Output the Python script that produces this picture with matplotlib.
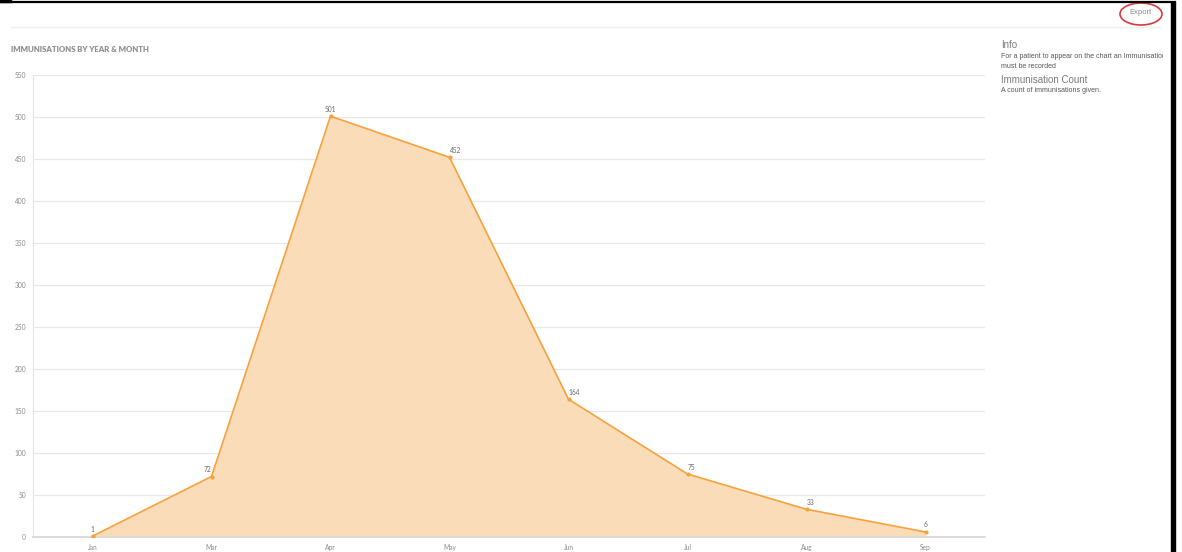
import matplotlib
matplotlib.use("Agg")
import matplotlib.pyplot as plt
from matplotlib.patches import Ellipse, Rectangle
from matplotlib.lines import Line2D

months = ["Jan", "Mar", "Apr", "May", "Jun", "Jul", "Aug", "Sep"]
counts = [1, 72, 501, 452, 164, 75, 33, 6]
y_ticks = [0, 50, 100, 150, 200, 250, 300, 350, 400, 450, 500, 550]

W, H = 1182, 552
fig = plt.figure(figsize=(W / 100, H / 100), dpi=100)
fig.patch.set_facecolor("white")
plt.rcParams["font.family"] = ["Lato", "DejaVu Sans"]
ARIAL = ["Liberation Sans", "DejaVu Sans"]

def fx(px):
    return px / W

def fy(py):
    return 1 - py / H

# frame of screenshot
fig.add_artist(Line2D([0, fx(1175)], [fy(2), fy(2)], color="black", lw=1.6, transform=fig.transFigure))
fig.add_artist(Line2D([0, fx(10)], [fy(1), fy(1)], color="black", lw=2.5, transform=fig.transFigure))
fig.add_artist(Rectangle((fx(1171), 0), fx(4), fy(2), color="black", transform=fig.transFigure))
fig.add_artist(Line2D([fx(11), fx(1160)], [fy(27), fy(27)], color="#eeeeee", lw=1, transform=fig.transFigure))

# header texts
fig.text(fx(11), fy(50), "IMMUNISATIONS BY YEAR & MONTH", fontsize=5.6, fontweight="heavy",
         color="#8f8f8f", va="center", ha="left")
fig.text(fx(1141), fy(12), "Export", fontsize=5.5, color="#8a8a8a", va="center", ha="center",
         family=ARIAL)
fig.add_artist(Ellipse((fx(1141), fy(14)), fx(42), 22 / H, fill=False, edgecolor="#d9393b",
                       lw=1.2, transform=fig.transFigure))

# info panel
fig.text(fx(1001), fy(45), "Info", fontsize=7, color="#7a7a7a", va="center", ha="left", family=ARIAL)
t = fig.text(fx(1001), fy(56), "For a patient to appear on the chart an Immunisation", fontsize=5,
             color="#555555", va="center", ha="left", family=ARIAL)
t.set_clip_on(True)
t.set_clip_box(matplotlib.transforms.Bbox.from_extents(1000, 0, 1163, H))
fig.text(fx(1001), fy(66), "must be recorded", fontsize=5, color="#555555", va="center", ha="left",
         family=ARIAL)
fig.text(fx(1001), fy(80), "Immunisation Count", fontsize=7, color="#7a7a7a", va="center", ha="left",
         family=ARIAL)
fig.text(fx(1001), fy(90), "A count of immunisations given.", fontsize=5, color="#555555",
         va="center", ha="left", family=ARIAL)

# main axes
ax = fig.add_axes([fx(33), 1 - 537 / H, fx(985 - 33), (537 - 75) / H])
x = list(range(len(months)))
ax.fill_between(x, counts, 0, color="#fbdcb8", lw=0, zorder=2)
ax.plot(x, counts, color="#f6a13c", lw=1.2, marker="o", ms=2, zorder=3)
ax.set_xlim(-0.5, len(months) - 0.5)
ax.set_ylim(0, 550)
ax.set_xticks(x)
ax.set_xticklabels(months)
ax.set_yticks(y_ticks)
ax.set_yticklabels([str(v) for v in y_ticks])
ax.tick_params(axis="both", length=0, labelsize=4.8, labelcolor="#8a8a8a")
ax.tick_params(axis="x", pad=5)
ax.tick_params(axis="y", pad=5)
ax.grid(axis="y", color="#e8e8e8", lw=0.9, zorder=1)
ax.set_axisbelow(True)
for s in ["top", "right"]:
    ax.spines[s].set_visible(False)
ax.spines["left"].set_color("#e3e3e3")
ax.spines["bottom"].set_color("#d6d6d6")
ax.spines["bottom"].set_linewidth(1.2)

for i, v in enumerate(counts):
    prev_v = counts[i - 1] if i > 0 else None
    next_v = counts[i + 1] if i < len(counts) - 1 else None
    ha = "center"
    if prev_v is not None and next_v is not None:
        if prev_v < v < next_v:
            ha = "right"
        elif prev_v > v > next_v:
            ha = "left"
    ax.annotate(str(v), (i, v), xytext=(0, 2.5), textcoords="offset points", ha=ha, va="bottom",
                fontsize=4.8, color="#666666", zorder=4)

fig.savefig("out.png", dpi=100)
